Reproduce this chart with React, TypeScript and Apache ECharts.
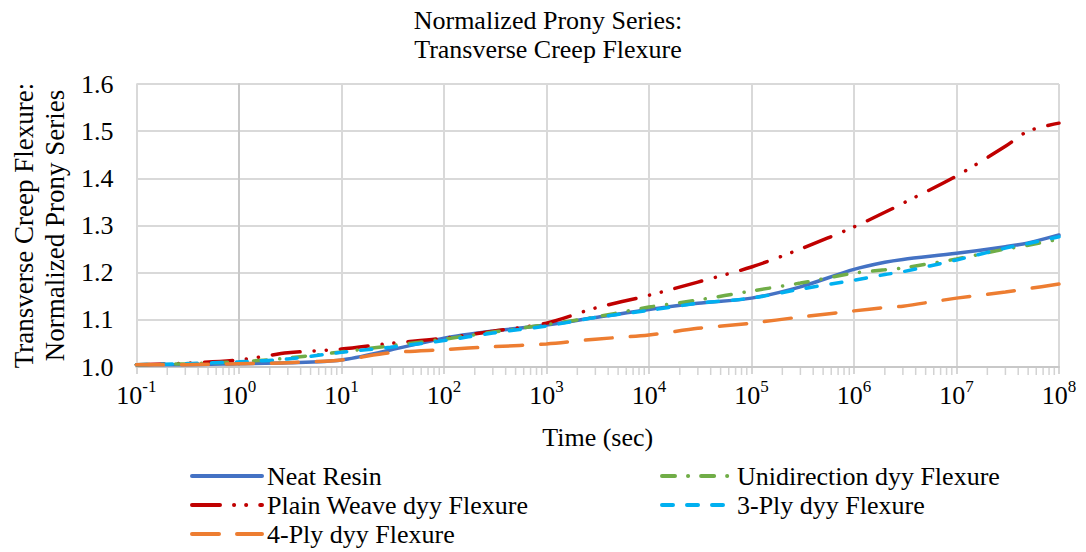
import React, { useEffect, useRef } from "react";
import * as echarts from "echarts";

const times = [0.1, 0.3, 1, 3, 10, 30, 100, 300, 1e3, 3e3, 1e4, 3e4, 1e5, 3e5, 1e6, 2e6, 3e6, 1e7, 3e7, 5e7, 1e8];
const neatResin = [1.005, 1.005, 1.007, 1.009, 1.015, 1.036, 1.061, 1.076, 1.089, 1.105, 1.122, 1.135, 1.146, 1.17, 1.207, 1.222, 1.228, 1.241, 1.255, 1.263, 1.28];
const plainWeave = [1.005, 1.008, 1.015, 1.03, 1.038, 1.05, 1.061, 1.076, 1.093, 1.125, 1.152, 1.18, 1.212, 1.25, 1.297, 1.328, 1.347, 1.405, 1.468, 1.5, 1.517];
const unidirection = [1.005, 1.007, 1.011, 1.019, 1.032, 1.045, 1.059, 1.074, 1.09, 1.106, 1.127, 1.142, 1.161, 1.178, 1.199, 1.206, 1.21, 1.229, 1.25, 1.258, 1.271];
const ply3 = [1.005, 1.007, 1.011, 1.017, 1.031, 1.042, 1.056, 1.072, 1.087, 1.105, 1.12, 1.135, 1.146, 1.165, 1.184, 1.196, 1.202, 1.227, 1.252, 1.262, 1.276];
const ply4 = [1.005, 1.005, 1.007, 1.009, 1.015, 1.03, 1.037, 1.043, 1.049, 1.059, 1.068, 1.082, 1.093, 1.106, 1.119, 1.126, 1.129, 1.146, 1.159, 1.166, 1.176];

const seriesNames = ["Neat Resin", "Plain Weave dyy Flexure", "Unidirection dyy Flexure", "3-Ply dyy Flexure", "4-Ply dyy Flexure"];
const decadeExponents = [-1, 0, 1, 2, 3, 4, 5, 6, 7];
const minorMultipliers = [2, 3, 4, 5, 6, 7, 8, 9];

const FONT = "'Liberation Serif', 'Times New Roman', serif";

export default function App() {
  const ref = useRef<HTMLDivElement>(null);
  useEffect(() => {
    document.body.style.margin = "0";
    const chart = echarts.init(ref.current!, undefined, { renderer: "svg" });
    const toXY = (vals: number[]) => vals.map((v, i) => [Math.log10(times[i]), v]);
    const minorTicks: number[][] = [];
    decadeExponents.forEach((d) => {
      minorMultipliers.forEach((k) => minorTicks.push([Math.log10(k * Math.pow(10, d)), 1.0]));
    });
    const mk = (name: string, vals: number[], color: string, dash: number[] | "solid") => ({
      name,
      type: "line",
      data: toXY(vals),
      smooth: 0.3,
      symbol: "none",
      showSymbol: false,
      lineStyle: { color, width: 3.5, type: dash, cap: "round" },
      itemStyle: { color },
      z: 3,
    });
    const legendCommon = {
      orient: "vertical",
      top: 463,
      padding: 0,
      itemWidth: 70,
      itemHeight: 14,
      itemGap: 3,
      itemStyle: { opacity: 0, color: "transparent", borderWidth: 0 },
      lineStyle: { width: 4 },
      textStyle: { fontFamily: FONT, fontSize: 26, color: "#000", lineHeight: 26 },
    };
    chart.setOption({
      animation: false,
      backgroundColor: "#fff",
      title: {
        text: "Normalized Prony Series:\nTransverse Creep Flexure",
        left: 548,
        textAlign: "center",
        top: 6,
        padding: 0,
        textStyle: { fontFamily: FONT, fontSize: 26, fontWeight: "normal", color: "#000", lineHeight: 29 },
      },
      grid: { left: 130, right: 27, top: 84, bottom: 185, containLabel: false },
      legend: [
        { ...legendCommon, data: [seriesNames[0], seriesNames[1], seriesNames[4]], left: 190 },
        { ...legendCommon, data: [seriesNames[2], seriesNames[3]], left: 660 },
      ],
      xAxis: {
        type: "value",
        min: -1,
        max: 8,
        interval: 1,
        name: "Time (sec)",
        nameLocation: "middle",
        nameGap: 57,
        nameTextStyle: { fontFamily: FONT, fontSize: 26, color: "#000" },
        axisLine: { show: true, lineStyle: { color: "#C8C8C8", width: 2 } },
        axisTick: { show: true, length: 7, lineStyle: { color: "#C8C8C8", width: 1.5 } },
        splitLine: { show: true, lineStyle: { color: "#D9D9D9", width: 2 } },
        axisLabel: {
          margin: 11,
          formatter: (v: number) => `{b|10}{s|${Math.round(v)}}`,
          rich: {
            b: { fontFamily: FONT, fontSize: 26, color: "#000", verticalAlign: "bottom", lineHeight: 30 },
            s: { fontFamily: FONT, fontSize: 17, color: "#000", verticalAlign: "top", lineHeight: 30 },
          },
        },
      },
      yAxis: {
        type: "value",
        min: 1.0,
        max: 1.6,
        interval: 0.1,
        name: "Transverse Creep Flexure:\nNormalized Prony Series",
        nameLocation: "middle",
        nameGap: 59,
        nameTextStyle: { fontFamily: FONT, fontSize: 27, color: "#000", lineHeight: 31 },
        axisLine: { show: true, lineStyle: { color: "#C8C8C8", width: 2 } },
        axisTick: { show: false },
        splitLine: { show: true, lineStyle: { color: "#D9D9D9", width: 2 } },
        axisLabel: {
          margin: 23,
          formatter: (v: number) => v.toFixed(1),
          fontFamily: FONT,
          fontSize: 26,
          color: "#000",
        },
      },
      series: [
        mk(seriesNames[0], neatResin, "#4472C4", "solid"),
        mk(seriesNames[1], plainWeave, "#C00000", [28, 14, 0.1, 12, 0.1, 14]),
        mk(seriesNames[2], unidirection, "#70AD47", [13, 13, 0.1, 13]),
        mk(seriesNames[3], ply3, "#00B0F0", [11, 14]),
        mk(seriesNames[4], ply4, "#ED7D31", [27, 18]),
        {
          name: "minorTicks",
          type: "scatter",
          data: minorTicks,
          symbol: "rect",
          symbolSize: [1.5, 7],
          symbolOffset: [0, 4.5],
          itemStyle: { color: "#C8C8C8" },
          silent: true,
          clip: false,
          z: 1,
        },
      ],
    });
    return () => chart.dispose();
  }, []);
  return <div ref={ref} style={{ width: 1086, height: 552 }} />;
}
